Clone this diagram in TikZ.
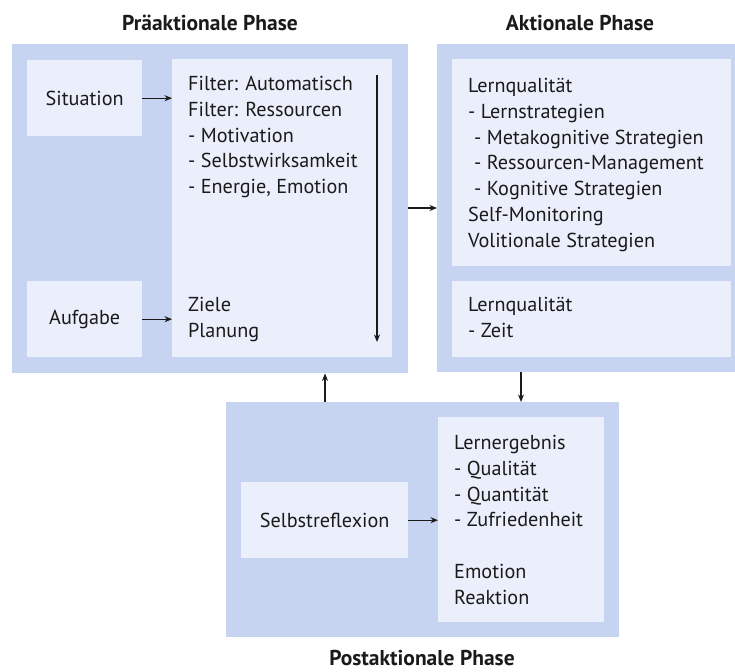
\documentclass[tikz,border=0pt]{standalone}
\usepackage{fontspec}
\setmainfont{PT Sans}
\usetikzlibrary{arrows.meta}
\definecolor{panelc}{HTML}{C6D4F1}
\definecolor{innerc}{HTML}{EBEFFB}
\definecolor{inkc}{HTML}{1A1A1A}
\tikzset{
  panel/.style={fill=panelc, draw=none, inner sep=0pt, anchor=north west},
  inner/.style={fill=innerc, draw=none, inner sep=0pt, anchor=north west},
  txt/.style={inner sep=0pt, anchor=north west, align=left, text=inkc, font=\fontsize{20.2}{25.8}\selectfont},
  ctxt/.style={inner sep=0pt, text=inkc, font=\fontsize{20.2}{25.8}\selectfont},
  ttl/.style={inner sep=0pt, text=inkc, font=\fontsize{21.5}{24}\selectfont\bfseries},
  arr/.style={draw=inkc, line width=1.3pt, -{Stealth[length=7.5pt,width=6pt]}}
}
\begin{document}
\begin{tikzpicture}[x=1pt,y=-1pt]
\useasboundingbox (0,0) rectangle (735,671);
% panels
\node[panel, minimum width=396pt, minimum height=329pt] (pre) at (12,44) {};
\node[panel, minimum width=298pt, minimum height=328pt] (akt) at (437,44) {};
\node[panel, minimum width=393pt, minimum height=235pt] (post) at (226,402) {};
% inner boxes
\node[inner, minimum width=115pt, minimum height=76pt] (sit) at (27,60) {};
\node[inner, minimum width=115pt, minimum height=76pt] (auf) at (27,281) {};
\node[inner, minimum width=220pt, minimum height=298pt] (filt) at (172,59) {};
\node[inner, minimum width=279pt, minimum height=207pt] (lq1) at (452,59) {};
\node[inner, minimum width=279pt, minimum height=76pt] (lq2) at (452,281) {};
\node[inner, minimum width=167pt, minimum height=76pt] (selbst) at (241,482) {};
\node[inner, minimum width=166pt, minimum height=205pt] (erg) at (438,417) {};
% titles
\node[ttl] (t1) at (210,23) {Präaktionale Phase};
\node[ttl] (t2) at (580,23) {Aktionale Phase};
\node[ttl] (t3) at (422,658) {Postaktionale Phase};
% texts
\node[ctxt] (sitt) at (sit.center) {Situation};
\node[ctxt] (auft) at (auf.center) {Aufgabe};
\node[ctxt] (selbstt) at (selbst.center) {Selbstreflexion};
\node[txt] (filtt) at (188,76) {Filter: Automatisch\\Filter: Ressourcen\\- Motivation\\- Selbstwirksamkeit\\- Energie, Emotion};
\node[txt] (zielt) at (188,297) {Ziele\\Planung};
\node[txt] (lq1t) at (468,78) {Lernqualität\\- Lernstrategien\\\hspace*{6pt}- Metakognitive Strategien\\\hspace*{6pt}- Ressourcen-Management\\\hspace*{6pt}- Kognitive Strategien\\Self-Monitoring\\Volitionale Strategien};
\node[txt] (lq2t) at (468,297) {Lernqualität\\- Zeit};
\node[txt] (ergt) at (454,435) {Lernergebnis\\- Qualität\\- Quantität\\- Zufriedenheit\\[25.8pt]Emotion\\Reaktion};
% coordinates
\coordinate (va) at (377,75);
\coordinate (vb) at (377,342);
\coordinate (dx) at (521,0);
\coordinate (ux) at (325,0);
% arrows
\draw[arr] (sit.east) -- (sit.east -| filt.west);
\draw[arr] (auf.east) -- (auf.east -| filt.west);
\draw[arr] (va) -- (vb);
\draw[arr] (pre.east |- 0,208) -- (akt.west |- 0,208);
\draw[arr] (akt.south -| dx) -- (post.north -| dx);
\draw[arr] (post.north -| ux) -- (pre.south -| ux);
\draw[arr] (selbst.east) -- (selbst.east -| erg.west);
\end{tikzpicture}
\end{document}
